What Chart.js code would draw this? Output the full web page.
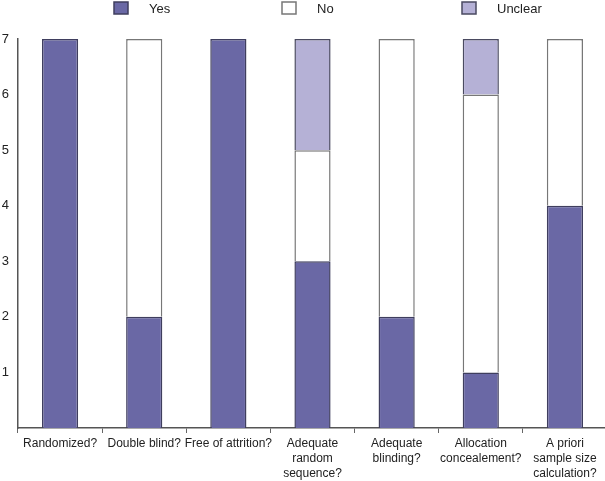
<!DOCTYPE html>
<html>
<head>
<meta charset="utf-8">
<script src="https://cdn.jsdelivr.net/npm/chart.js@4/dist/chart.umd.min.js"></script>
<style>
  html, body { margin: 0; padding: 0; background: #fff; overflow: hidden; }
  #wrap { width: 608px; height: 484px; }
</style>
</head>
<body>
<div id="wrap"><canvas id="chart"></canvas></div>
<script>
// study quality questions (x categories)
const categories = [
    ["Randomized?"],
    ["Double blind?"],
    ["Free of attrition?"],
    ["Adequate", "random", "sequence?"],
    ["Adequate", "blinding?"],
    ["Allocation", "concealement?"],
    ["A priori", "sample size", "calculation?"]
];
const yesCounts = [7, 2, 7, 3, 2, 1, 4];
const noCounts = [0, 5, 0, 2, 5, 5, 3];
const unclearCounts = [0, 0, 0, 2, 0, 1, 0];
const yTicks = [1, 2, 3, 4, 5, 6, 7];

const FONT = "'Liberation Sans', Arial, Helvetica, sans-serif";

// legend drawn across the top, spread out like the original
const topLegend = {
    id: "topLegend",
    afterDraw: function(chart, args, opts) {
        const ctx = chart.ctx;
        ctx.save();
        ctx.font = "13px " + FONT;
        ctx.textBaseline = "middle";
        chart.data.datasets.forEach(function(ds, i) {
            const x = opts.positions[i];
            ctx.fillStyle = ds.backgroundColor;
            ctx.strokeStyle = ds.borderColor;
            ctx.lineWidth = 1.5;
            ctx.fillRect(x, 2, 14, 12);
            ctx.strokeRect(x, 2, 14, 12);
            ctx.fillStyle = "#222";
            ctx.fillText(ds.label, x + 35, 9);
        });
        ctx.restore();
    }
};

new Chart(document.getElementById("chart"), {
    type: "bar",
    data: {
        labels: categories,
        datasets: [{
            label: "Yes",
            data: yesCounts,
            backgroundColor: "#6a68a5",
            borderColor: "#3f3e5e",
            borderWidth: 1.5
        }, {
            label: "No",
            data: noCounts,
            backgroundColor: "#ffffff",
            borderColor: "#777777",
            borderWidth: 1.5
        }, {
            label: "Unclear",
            data: unclearCounts,
            backgroundColor: "#b5b1d6",
            borderColor: "#4a4a60",
            borderWidth: 1.5
        }]
    },
    options: {
        responsive: true,
        maintainAspectRatio: false,
        animation: false,
        barPercentage: 0.43,
        categoryPercentage: 1,
        layout: { padding: { top: 39, left: 0, right: 1, bottom: 0 } },
        plugins: {
            legend: { display: false },
            tooltip: { enabled: false },
            topLegend: { positions: [114, 282, 462] }
        },
        scales: {
            x: {
                stacked: true,
                grid: {
                    display: true,
                    drawOnChartArea: false,
                    drawTicks: true,
                    tickLength: 5,
                    color: "#666",
                    lineWidth: 1
                },
                border: { display: true, color: "#555", width: 1.5 },
                ticks: {
                    padding: 3,
                    maxRotation: 0,
                    autoSkip: false,
                    color: "#222",
                    font: { family: FONT, size: 12, lineHeight: 1.25 }
                }
            },
            y: {
                stacked: true,
                min: 0,
                max: 7,
                grid: { display: false, drawTicks: false },
                border: { display: true, color: "#555", width: 1.5 },
                afterBuildTicks: function(scale) {
                    scale.ticks = yTicks.map(function(v) { return { value: v }; });
                },
                afterFit: function(scale) {
                    scale.width = 18;
                },
                ticks: {
                    padding: 9,
                    color: "#222",
                    font: { family: FONT, size: 13 }
                }
            }
        }
    },
    plugins: [topLegend]
});
</script>
</body>
</html>
